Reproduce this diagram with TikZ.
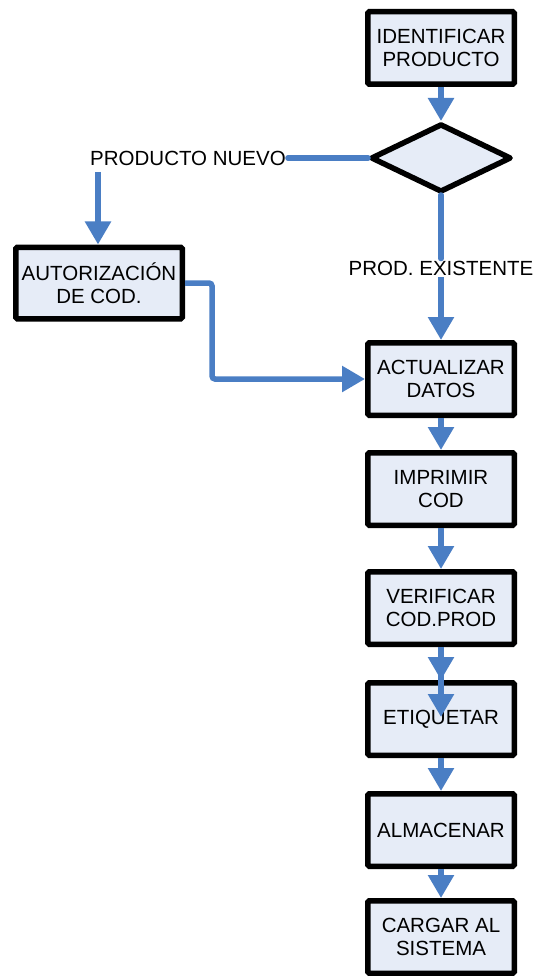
\documentclass[tikz,border=0pt]{standalone}
\usepackage{fontspec}
\setmainfont{Liberation Sans}
\usepackage{tikz}
\usetikzlibrary{positioning,arrows.meta,shapes.geometric}
\definecolor{cajafondo}{RGB}{230,236,247}
\definecolor{flujo}{RGB}{74,126,196}
\begin{document}
\begin{tikzpicture}[x=1pt, y=-1pt, every node/.style={font=\fontsize{20.5}{23}\selectfont}, caja/.style={draw, line width=5.5pt, rounded corners=1.5pt, fill=cajafondo, align=center, minimum width=146.5pt, minimum height=72.5pt, inner sep=0pt}, rombo/.style={draw, diamond, line width=5.5pt, line join=round, fill=cajafondo, minimum width=140.5pt, minimum height=68.5pt, inner sep=0pt}, etq/.style={inner sep=2pt}, flecha/.style={draw=flujo, line width=5.5pt, -{Triangle[length=23pt,width=25pt]}}, linea/.style={draw=flujo, line width=5.5pt, line cap=round}]
\useasboundingbox (0,0) rectangle (536,976);
\node[caja] (ident) at (441,48) {IDENTIFICAR\\PRODUCTO};
\node[rombo] (decide) at (441,158) {};
\node[etq] (nuevo) at (188,158) {PRODUCTO NUEVO};
\node[etq] (exist) at (441,268) {PROD. EXISTENTE};
\node[caja, minimum width=166.5pt, minimum height=71.5pt] (autor) at (99,283) {AUTORIZACIÓN\\DE COD.};
\node[caja] (actual) at (441,379) {ACTUALIZAR\\DATOS};
\node[caja] (impr) at (441,489) {IMPRIMIR\\COD};
\node[caja] (verif) at (441,608) {VERIFICAR\\COD.PROD};
\node[caja] (etiq) at (441,719) {ETIQUETAR};
\node[caja] (almac) at (441,830) {ALMACENAR};
\node[caja] (cargar) at (441,937) {CARGAR AL\\SISTEMA};
\coordinate (nv) at (98,172);
\coordinate (codo) at (212,330);
\coordinate (dentro) at (441,717);
\draw[flecha] (ident) -- (decide);
\draw[linea] (decide.west) -- (nuevo.east);
\draw[flecha] (nv) -- (nv |- autor.north);
\draw[linea] (decide.south) -- (exist.north);
\draw[flecha] (exist) -- (actual);
\draw[flecha, rounded corners=3pt] (autor.east) -| (codo) |- (actual.west);
\draw[flecha] (actual) -- (impr);
\draw[flecha] (impr) -- (verif);
\draw[flecha] (verif) -- (etiq);
\draw[flecha] (verif.south) -- (dentro);
\draw[flecha] (etiq) -- (almac);
\draw[flecha] (almac) -- (cargar);
\end{tikzpicture}
\end{document}
